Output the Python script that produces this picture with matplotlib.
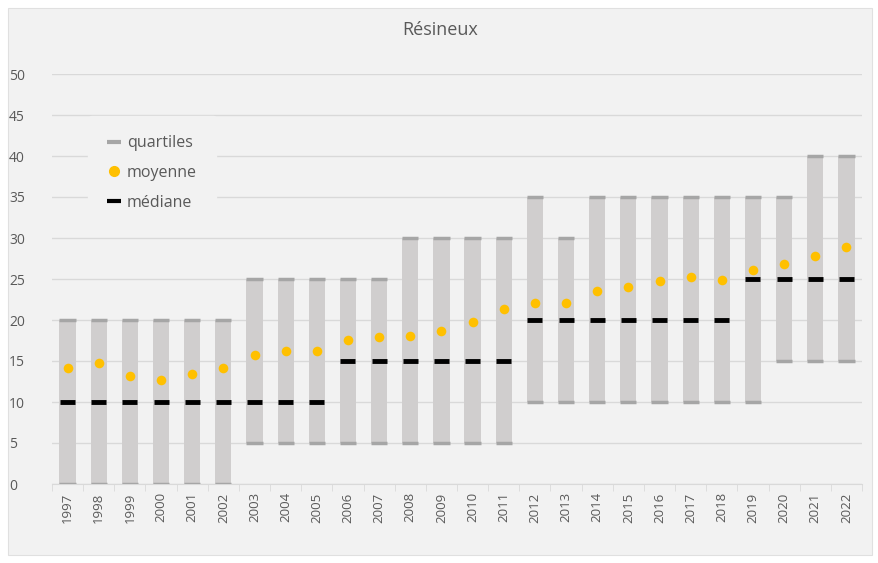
import numpy as np
import matplotlib.pyplot as plt
from matplotlib.lines import Line2D
from matplotlib.patches import Rectangle

plt.rcParams['font.family'] = ['Open Sans', 'DejaVu Sans']

years = [str(y) for y in range(1997, 2023)]
q1 = [0, 0, 0, 0, 0, 0, 5, 5, 5, 5, 5, 5, 5, 5, 5,
      10, 10, 10, 10, 10, 10, 10, 10, 15, 15, 15]
q3 = [20, 20, 20, 20, 20, 20, 25, 25, 25, 25, 25, 30, 30, 30, 30,
      35, 30, 35, 35, 35, 35, 35, 35, 35, 40, 40]
mediane = [10, 10, 10, 10, 10, 10, 10, 10, 10, 15, 15, 15, 15, 15, 15,
           20, 20, 20, 20, 20, 20, 20, 25, 25, 25, 25]
moyenne = [14.1, 14.8, 13.2, 12.7, 13.4, 14.1, 15.7, 16.2, 16.2, 17.6, 17.9,
           18.1, 18.6, 19.8, 21.4, 22.1, 22.1, 23.5, 24.0, 24.7, 25.2, 24.9,
           26.1, 26.8, 27.8, 28.9]

bg = '#f2f2f2'
txt = '#595959'

fig = plt.figure(figsize=(8.79, 5.63), dpi=100)
fig.patch.set_facecolor('white')
fig.patches.append(Rectangle((8 / 879, 8 / 563), 864 / 879, 547 / 563,
                             transform=fig.transFigure, facecolor=bg,
                             edgecolor='#e0e0e0', linewidth=0.8, zorder=-10))

ax = fig.add_axes([52 / 879, 1 - 484 / 563, 810 / 879, 410 / 563])
ax.set_facecolor(bg)

x = np.arange(len(years))
w = 0.52
q1 = np.array(q1)
q3 = np.array(q3)

# boites quartiles + petits traits aux extremites
ax.bar(x, q3 - q1, bottom=q1, width=w, color='#d0cece', zorder=2)
ax.hlines(q1, x - w / 2, x + w / 2, color='#a6a6a6', linewidth=2.5, zorder=3)
ax.hlines(q3, x - w / 2, x + w / 2, color='#a6a6a6', linewidth=2.5, zorder=3)
ax.hlines(mediane, x - w / 2 + 0.02, x + w / 2 - 0.02, color='black', linewidth=3.5, zorder=4)
ax.scatter(x, moyenne, s=48, color='#ffc000', zorder=5, linewidths=0)

ax.set_xlim(-0.5, len(years) - 0.5)
ax.set_ylim(0, 50)
ax.set_yticks(range(0, 51, 5))
ax.yaxis.grid(True, color='#d9d9d9', linewidth=1)
ax.set_axisbelow(True)

ax.set_xticks(x)
ax.set_xticklabels(years, rotation=90, fontsize=9.5, color=txt)
ax.set_xticks(np.arange(-0.5, len(years), 1), minor=True)
ax.tick_params(axis='x', which='major', length=0, pad=6)
ax.tick_params(axis='x', which='minor', length=5, color='#d9d9d9')
ax.tick_params(axis='y', length=0, labelsize=10, labelcolor=txt, pad=31)
for lab in ax.get_yticklabels():
    lab.set_horizontalalignment('left')

for s in ['top', 'right', 'left']:
    ax.spines[s].set_visible(False)
ax.spines['bottom'].set_color('#d9d9d9')

fig.text(440 / 879, 1 - 30 / 563, 'Résineux', ha='center', va='center',
         fontsize=13, color=txt)

handles = [
    Line2D([], [], color='#a6a6a6', marker='_', linestyle='none', markersize=10, markeredgewidth=3),
    Line2D([], [], color='#ffc000', marker='o', linestyle='none', markersize=7),
    Line2D([], [], color='black', marker='_', linestyle='none', markersize=10, markeredgewidth=3),
]
leg = ax.legend(handles, ['quartiles', 'moyenne', 'médiane'], loc='center left',
                bbox_to_anchor=(0.045, 0.7585), frameon=True, facecolor=bg,
                edgecolor=bg, framealpha=1, fontsize=11.5, labelcolor=txt,
                handlelength=0.8, handletextpad=0.4, labelspacing=0.85,
                borderpad=1.2, borderaxespad=0)

fig.savefig('out.png', dpi=100, facecolor=fig.get_facecolor())
